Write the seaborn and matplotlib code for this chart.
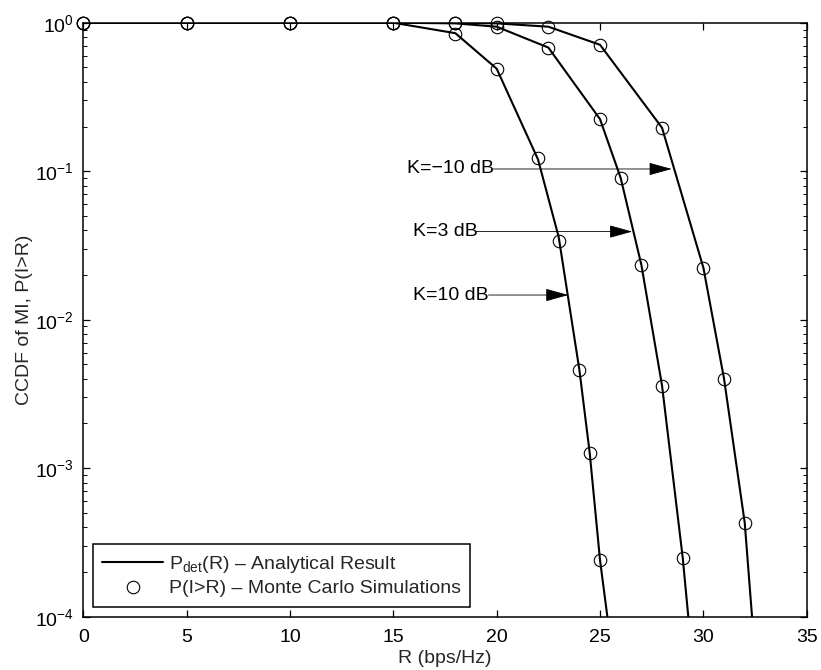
import numpy as np
import pandas as pd
import matplotlib
matplotlib.use("Agg")
import matplotlib.pyplot as plt
from matplotlib.lines import Line2D
import seaborn as sns

# ---------------- data ----------------
# Monte Carlo simulation points
mc_x_k10 = [0, 5, 10, 15, 18, 20, 22, 23, 24, 24.5, 25]
mc_y_k10 = [1.0, 1.0, 1.0, 1.0, 0.84, 0.49, 0.122, 0.034, 0.0046, 0.00127, 0.00024]

mc_x_k3 = [0, 5, 10, 15, 18, 20, 22.5, 25, 26, 27, 28, 29]
mc_y_k3 = [1.0, 1.0, 1.0, 1.0, 0.995, 0.94, 0.68, 0.224, 0.09, 0.0234, 0.0036, 0.00025]

mc_x_km10 = [0, 5, 10, 15, 18, 20, 22.5, 25, 28, 30, 31, 32]
mc_y_km10 = [1.0, 1.0, 1.0, 1.0, 1.0, 0.995, 0.94, 0.71, 0.196, 0.0224, 0.0040, 0.00043]

# Analytical curves
an_x_k10 = [0, 5, 10, 15, 18, 20, 22, 23, 24, 24.5, 25, 25.5]
an_y_k10 = [1.0, 1.0, 1.0, 1.0, 0.85, 0.49, 0.12, 0.036, 0.0046, 0.00127, 0.00024, 0.00007]

an_x_k3 = [0, 5, 10, 15, 18, 20, 22.5, 25, 26, 27, 28, 29, 29.5]
an_y_k3 = [1.0, 1.0, 1.0, 1.0, 0.99, 0.94, 0.68, 0.224, 0.09, 0.0234, 0.0036, 0.00025, 0.000046]

an_x_km10 = [0, 5, 10, 15, 18, 20, 22.5, 25, 28, 30, 31, 32, 32.5]
an_y_km10 = [1.0, 1.0, 1.0, 1.0, 1.0, 0.99, 0.94, 0.71, 0.196, 0.0224, 0.0040, 0.00043, 0.000055]

# annotations: label, text start x, arrow start x, arrow tip x, y
ann_labels = ["K=\u221210 dB", "K=3 dB", "K=10 dB"]
ann_text_x = [15.65, 15.97, 15.97]
ann_start_x = [19.82, 19.0, 19.6]
ann_tip_x = [28.47, 26.56, 23.47]
ann_y = [0.1035, 0.0392, 0.01466]

xticks = [0, 5, 10, 15, 20, 25, 30, 35]
legend_labels = ["P$_{\\mathregular{det}}$(R) \u2013 Analytical Result",
                 "P(I>R) \u2013 Monte Carlo Simulations"]
xlabel = "R (bps/Hz)"
ylabel = "CCDF of MI, P(I>R)"

# ---------------- style ----------------
sns.set_style("ticks")
plt.rcParams["font.family"] = ["Liberation Sans", "DejaVu Sans"]
plt.rcParams["mathtext.fontset"] = "custom"
plt.rcParams["mathtext.rm"] = "Liberation Sans"
plt.rcParams["mathtext.it"] = "Liberation Sans:italic"
plt.rcParams["mathtext.bf"] = "Liberation Sans:bold"
plt.rcParams["axes.unicode_minus"] = True

FS = 14

fig = plt.figure(figsize=(8.21, 6.70), dpi=100)
ax = fig.add_axes([0.1015, 0.0796, 0.8811, 0.8865])

an_sets = [(an_x_k10, an_y_k10), (an_x_k3, an_y_k3), (an_x_km10, an_y_km10)]
mc_sets = [(mc_x_k10, mc_y_k10), (mc_x_k3, mc_y_k3), (mc_x_km10, mc_y_km10)]

for (x, y) in an_sets:
    df = pd.DataFrame({"R": x, "P": y})
    sns.lineplot(data=df, x="R", y="P", ax=ax, color="k", linewidth=1.5,
                 sort=False, estimator=None)

for (x, y) in mc_sets:
    df = pd.DataFrame({"R": x, "P": y})
    sns.lineplot(data=df, x="R", y="P", ax=ax, color="k", linestyle="none",
                 marker="o", markersize=9, markerfacecolor="none",
                 markeredgecolor="k", markeredgewidth=0.8,
                 sort=False, estimator=None, clip_on=False)

ax.set_yscale("log")
ax.set_xlim(0, 35)
ax.set_ylim(1e-4, 1)
ax.set_xticks(xticks)
ax.set_xticklabels([str(t) for t in xticks])

for s in ax.spines.values():
    s.set_visible(True)
    s.set_linewidth(1.1)
    s.set_color("k")

ax.tick_params(which="both", direction="in", top=True, right=True,
               colors="k", labelsize=FS)
ax.tick_params(which="major", length=5, width=0.9)
ax.tick_params(which="minor", length=3, width=0.7)
ax.tick_params(axis="y", which="major", pad=7)
ax.tick_params(axis="x", which="major", pad=9)
ax.minorticks_on()
ax.xaxis.set_minor_locator(matplotlib.ticker.NullLocator())

ax.set_xlabel(xlabel, fontsize=FS, labelpad=3)
ax.set_ylabel(ylabel, fontsize=FS, labelpad=1)

# annotations
for lab, tx, sx, ex, yy in zip(ann_labels, ann_text_x, ann_start_x, ann_tip_x, ann_y):
    ax.text(tx, yy, lab, fontsize=FS, ha="left", va="center", color="k")
    ax.annotate("", xy=(ex, yy), xytext=(sx, yy),
                arrowprops=dict(arrowstyle="-|>,head_length=1.45,head_width=0.4",
                                color="k", lw=0.6, shrinkA=0, shrinkB=0,
                                mutation_scale=10))

# legend
handles = [Line2D([], [], color="k", linewidth=1.5),
           Line2D([], [], color="k", linestyle="none", marker="o",
                  markersize=9, markerfacecolor="none", markeredgewidth=0.8)]
leg = ax.legend(handles, legend_labels, loc="lower left",
                bbox_to_anchor=(0.013, 0.016), borderaxespad=0,
                fontsize=FS, frameon=True, fancybox=False, framealpha=1,
                edgecolor="k", handlelength=3.1, handletextpad=0.3,
                borderpad=0.5, labelspacing=0.25)
leg.get_frame().set_linewidth(1.1)

fig.savefig("out.png", dpi=100)
